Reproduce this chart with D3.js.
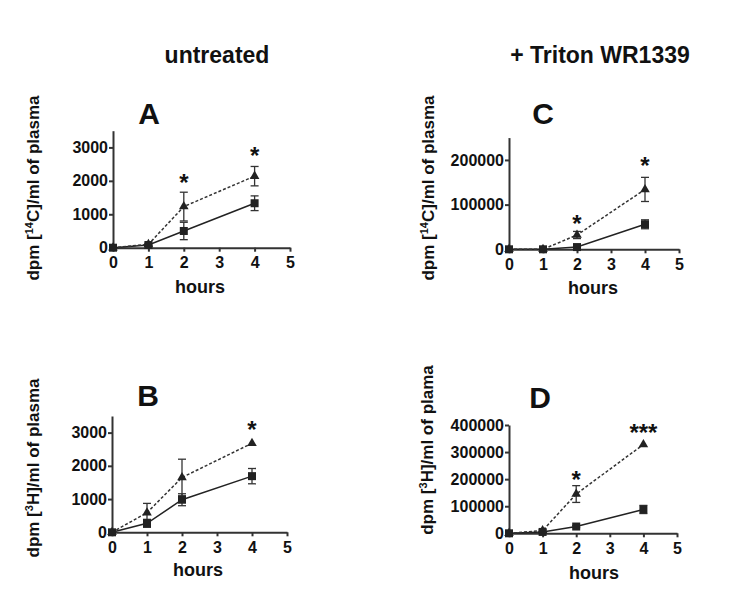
<!DOCTYPE html>
<html>
<head>
<meta charset="utf-8">
<style>
  body { margin: 0; background: #fff; }
  text { font-family: "Liberation Sans", Arial, sans-serif; font-weight: bold; fill: #111; }
</style>
<script src="https://d3js.org/d3.v7.min.js"></script>
</head>
<body>
<script>
// time points (hours)
const hours = [0, 1, 2, 4];

// panel A: [14C] untreated
const aTriangle = [0, 100, 1230, 2140];
const aTriangleErr = [0, 30, 430, 290];
const aSquare = [0, 80, 500, 1330];
const aSquareErr = [0, 30, 260, 220];
const aStarHours = [2, 4];
const aStarY = [2080, 2900];
const aStarText = ["*", "*"];

// panel B: [3H] untreated
const bTriangle = [0, 590, 1650, 2680];
const bTriangleErr = [0, 280, 550, 0];
const bSquare = [0, 270, 980, 1690];
const bSquareErr = [0, 120, 180, 230];
const bStarHours = [4];
const bStarY = [3220];
const bStarText = ["*"];

// panel C: [14C] + Triton
const cTriangle = [0, 0, 32000, 134000];
const cTriangleErr = [0, 0, 8000, 27000];
const cSquare = [0, 0, 5000, 56000];
const cSquareErr = [0, 0, 2000, 10000];
const cStarHours = [2, 4];
const cStarY = [67000, 198000];
const cStarText = ["*", "*"];

// panel D: [3H] + Triton
const dTriangle = [0, 10000, 145000, 328000];
const dTriangleErr = [0, 3000, 31000, 0];
const dSquare = [0, 5000, 25000, 88000];
const dSquareErr = [0, 2000, 4000, 15000];
const dStarHours = [2, 4];
const dStarY = [215000, 390000];
const dStarText = ["*", "***"];

const xTicks = [0, 1, 2, 3, 4, 5];
const abTicks = [0, 1000, 2000, 3000];
const cTicks = [0, 100000, 200000];
const dTicks = [0, 100000, 200000, 300000, 400000];

const columnTitles = ["untreated", "+ Triton WR1339"];

const W = 735, H = 605;
const svg = d3.select("body").append("svg").attr("width", W).attr("height", H);

svg.append("text").attr("x", 217).attr("y", 63).attr("text-anchor", "middle")
  .style("font-size", "23px").text(columnTitles[0]);
svg.append("text").attr("x", 600).attr("y", 63).attr("text-anchor", "middle")
  .style("font-size", "23px").text(columnTitles[1]);

const panels = [
  { letter: "A", iso: "14C", yLab: "of plasma", x0: 113, x1: 290, y0: 247.7, yTop: 3500, yTopPx: 130.7,
    ticks: abTicks, tri: aTriangle, triErr: aTriangleErr, sq: aSquare, sqErr: aSquareErr,
    starH: aStarHours, starY: aStarY, starT: aStarText, lx: 149, ly: 124, labX: 33, labY: 188, hx: 200, hy: 293 },
  { letter: "B", iso: "3H", yLab: "of plasma", x0: 112, x1: 287, y0: 532.3, yTop: 3500, yTopPx: 416,
    ticks: abTicks, tri: bTriangle, triErr: bTriangleErr, sq: bSquare, sqErr: bSquareErr,
    starH: bStarHours, starY: bStarY, starT: bStarText, lx: 148, ly: 406, labX: 33, labY: 468, hx: 198, hy: 576 },
  { letter: "C", iso: "14C", yLab: "of plasma", x0: 509, x1: 679, y0: 249.3, yTop: 250000, yTopPx: 137.6,
    ticks: cTicks, tri: cTriangle, triErr: cTriangleErr, sq: cSquare, sqErr: cSquareErr,
    starH: cStarHours, starY: cStarY, starT: cStarText, lx: 543, ly: 124, labX: 428, labY: 188, hx: 593, hy: 294 },
  { letter: "D", iso: "3H", yLab: "of plama", x0: 509, x1: 677, y0: 533.3, yTop: 400000, yTopPx: 425,
    ticks: dTicks, tri: dTriangle, triErr: dTriangleErr, sq: dSquare, sqErr: dSquareErr,
    starH: dStarHours, starY: dStarY, starT: dStarText, lx: 540, ly: 408, labX: 427, labY: 450, hx: 594, hy: 579 }
];

const axisColor = "#333";

panels.forEach(p => {
  const x = d3.scaleLinear().domain([0, 5]).range([p.x0, p.x1]);
  const y = d3.scaleLinear().domain([0, p.yTop]).range([p.y0, p.yTopPx]);
  const g = svg.append("g");

  // axes
  const xa = g.append("g").attr("transform", `translate(0,${p.y0})`)
    .call(d3.axisBottom(x).tickValues(xTicks).tickSize(4).tickSizeOuter(0).tickPadding(5).tickFormat(d3.format("d")));
  const ya = g.append("g").attr("transform", `translate(${p.x0},0)`)
    .call(d3.axisLeft(y).tickValues(p.ticks).tickSize(4).tickSizeOuter(0).tickPadding(1).tickFormat(d3.format("d")));
  [xa, ya].forEach(a => {
    a.select(".domain").attr("stroke", axisColor).attr("stroke-width", 2);
    a.selectAll(".tick line").attr("stroke", axisColor).attr("stroke-width", 2);
    a.selectAll("text").style("font-size", "16px").attr("fill", "#111");
  });

  const line = d3.line().x((d, i) => x(hours[i])).y(d => y(d));

  // error bars
  const drawErr = (vals, errs) => {
    vals.forEach((v, i) => {
      if (!errs[i]) return;
      const cx = x(hours[i]);
      const top = y(v + errs[i]), bot = y(Math.max(0, v - errs[i]));
      g.append("line").attr("x1", cx).attr("x2", cx).attr("y1", top).attr("y2", bot)
        .attr("stroke", "#333").attr("stroke-width", 1.3);
      [top, bot].forEach(yy => g.append("line").attr("x1", cx - 4).attr("x2", cx + 4)
        .attr("y1", yy).attr("y2", yy).attr("stroke", "#333").attr("stroke-width", 1.3));
    });
  };
  drawErr(p.sq, p.sqErr);
  drawErr(p.tri, p.triErr);

  g.append("path").datum(p.sq).attr("d", line).attr("fill", "none")
    .attr("stroke", "#222").attr("stroke-width", 1.5);
  g.append("path").datum(p.tri).attr("d", line).attr("fill", "none")
    .attr("stroke", "#333").attr("stroke-width", 1.5).attr("stroke-dasharray", "3,2");

  g.selectAll(".sq").data(p.sq).enter().append("rect")
    .attr("x", (d, i) => x(hours[i]) - 4).attr("y", d => y(d) - 4)
    .attr("width", 8).attr("height", 8).attr("fill", "#222");
  g.selectAll(".tri").data(p.tri).enter().append("path")
    .attr("d", d3.symbol().type(d3.symbolTriangle).size(40))
    .attr("transform", (d, i) => `translate(${x(hours[i])},${y(d)})`).attr("fill", "#222");

  // significance stars
  p.starH.forEach((h, i) => {
    g.append("text").attr("x", x(h)).attr("y", y(p.starY[i]) + 13)
      .attr("text-anchor", "middle").style("font-size", "24px").text(p.starT[i]);
  });

  // panel letter
  g.append("text").attr("x", p.lx).attr("y", p.ly).attr("text-anchor", "middle")
    .style("font-size", "30px").text(p.letter);

  // x label
  g.append("text").attr("x", p.hx).attr("y", p.hy).attr("text-anchor", "middle")
    .style("font-size", "18px").text("hours");

  // y label with superscript isotope
  const num = p.iso.replace(/[A-Z]/g, ""), el = p.iso.replace(/[0-9]/g, "");
  const lab = g.append("text").attr("transform", `translate(${p.labX},${p.labY}) rotate(-90)`)
    .attr("text-anchor", "middle").attr("dy", "0.35em").style("font-size", "17px");
  lab.append("tspan").text("dpm [");
  lab.append("tspan").attr("dy", -6).style("font-size", "11px").text(num);
  lab.append("tspan").attr("dy", 6).text(el + "]/ml " + p.yLab);
});
</script>
</body>
</html>
